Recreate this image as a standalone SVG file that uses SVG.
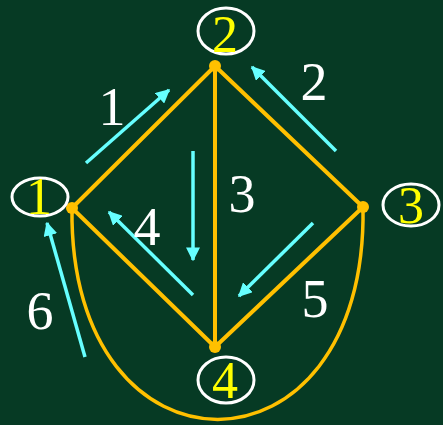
<svg xmlns="http://www.w3.org/2000/svg" width="443" height="425" viewBox="0 0 443 425">
<defs>
<style>
.edge{stroke:#FFC000;stroke-width:4;fill:none;stroke-linecap:round}
.loop{stroke:#FFC000;stroke-width:3.5;fill:none}
.arr{stroke:#66FFFF;stroke-width:3.5;fill:none}
.dot{fill:#FFC000}
.ring{fill:none;stroke:#FFFFFF;stroke-width:3}
.nlab{font-family:"Liberation Serif",serif;font-size:52px;fill:#FFFF00;text-anchor:middle}
.elab{font-family:"Liberation Serif",serif;font-size:54px;fill:#FFFFFF;text-anchor:middle}
</style>
<marker id="ah" viewBox="0 0 10 10" refX="9" refY="5" markerWidth="4" markerHeight="4" orient="auto" markerUnits="strokeWidth">
<path d="M0,0 L10,5 L0,10 z" fill="#66FFFF"/>
</marker>
</defs>
<rect width="443" height="425" fill="#063A24"/>
<g id="connectors">
<path class="edge" d="M72,208 L215,66"/>
<path class="edge" d="M215,66 L363,207"/>
<path class="edge" d="M215,66 L215,347"/>
<path class="edge" d="M72,208 L215,347"/>
<path class="edge" d="M363,207 L215,347"/>
<path class="loop" d="M72,208 C68,490 368,490 363,207"/>
</g>
<g id="flows">
<path class="arr" d="M86,163 L169,90" marker-end="url(#ah)"/>
<path class="arr" d="M336,151 L252,67" marker-end="url(#ah)"/>
<path class="arr" d="M193,151 L193,260" marker-end="url(#ah)"/>
<path class="arr" d="M193,295 L109,212" marker-end="url(#ah)"/>
<path class="arr" d="M313,223 L239,296" marker-end="url(#ah)"/>
<path class="arr" d="M85,357 L47,223" marker-end="url(#ah)"/>
</g>
<g id="edge-labels">
<text class="elab" x="112" y="125">1</text>
<text class="elab" x="314" y="100">2</text>
<text class="elab" x="242" y="212">3</text>
<text class="elab" x="147" y="245">4</text>
<text class="elab" x="315" y="317">5</text>
<text class="elab" x="40" y="329">6</text>
</g>
<g id="node1">
<circle class="dot" cx="72" cy="208" r="6"/>
<ellipse class="ring" cx="40" cy="197" rx="28" ry="19"/>
<text class="nlab" x="39" y="214">1</text>
</g>
<g id="node2">
<circle class="dot" cx="215" cy="66" r="6"/>
<ellipse class="ring" cx="226" cy="31" rx="28" ry="23"/>
<text class="nlab" x="225" y="52">2</text>
</g>
<g id="node3">
<circle class="dot" cx="363" cy="207" r="6"/>
<ellipse class="ring" cx="411" cy="205" rx="28" ry="21"/>
<text class="nlab" x="411" y="223">3</text>
</g>
<g id="node4">
<circle class="dot" cx="215" cy="347" r="6"/>
<ellipse class="ring" cx="226" cy="380" rx="28" ry="23"/>
<text class="nlab" x="225" y="398">4</text>
</g>
</svg>
